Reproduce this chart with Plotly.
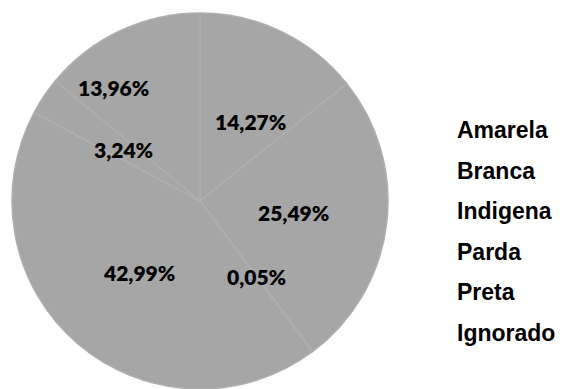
import math
import plotly.graph_objects as go

# Distribution by race/colour (percent)
categories = ["Amarela", "Branca", "Indigena", "Parda", "Preta", "Ignorado"]
percentages = [14.27, 25.49, 0.05, 42.99, 3.24, 13.96]

W, H = 564, 389
TOP = 13
PLOT_H = H - TOP
CX = 200          # pie centre, px from left
R = PLOT_H / 2    # pie radius in px
CY = TOP + R      # pie centre, px from top

FILL = "#a6a6a6"
EDGE = "#afafaf"

# label placement tweaks (fraction of radius, angular shift in degrees)
label_radius = [0.50, 0.50, 0.50, 0.50, 0.49, 0.76]
label_shift = [7, 0, 0, 0, 0, -12]

fig = go.Figure(
    go.Pie(
        labels=categories,
        values=percentages,
        sort=False,
        direction="clockwise",
        rotation=0,
        marker=dict(colors=[FILL] * len(categories), line=dict(color=EDGE, width=1.5)),
        textinfo="none",
        hoverinfo="label+percent",
        showlegend=False,
        domain=dict(x=[(CX - R) / W, (CX + R) / W], y=[0, 1]),
    )
)


def to_paper(px, py):
    return px / W, 1 - (py - TOP) / PLOT_H


annotations = []
total = sum(percentages)
start = 0.0
for i, v in enumerate(percentages):
    span = v / total * 360
    mid = start + span / 2 + label_shift[i]
    start += span
    rr = label_radius[i] * R
    px = CX + rr * math.sin(math.radians(mid))
    py = CY - rr * math.cos(math.radians(mid))
    x, y = to_paper(px, py)
    annotations.append(dict(
        x=x, y=y, xref="paper", yref="paper", showarrow=False,
        text=f"{v:.2f}".replace(".", ",") + "%",
        font=dict(family="Lato", size=21, color="#000000", weight=800),
        xanchor="center", yanchor="middle",
    ))

# text-only legend on the right
for i, name in enumerate(categories):
    x, y = to_paper(455, 130 + 40.6 * i)
    annotations.append(dict(
        x=x, y=y, xref="paper", yref="paper", showarrow=False,
        text=f"<b>{name}</b>",
        font=dict(family="Liberation Sans, Arial", size=23, color="#000000"),
        xanchor="left", yanchor="middle",
    ))

fig.update_layout(
    width=W, height=H,
    margin=dict(l=0, r=0, t=TOP, b=0),
    paper_bgcolor="white",
    plot_bgcolor="white",
    annotations=annotations,
)

fig.write_html("out.html")
